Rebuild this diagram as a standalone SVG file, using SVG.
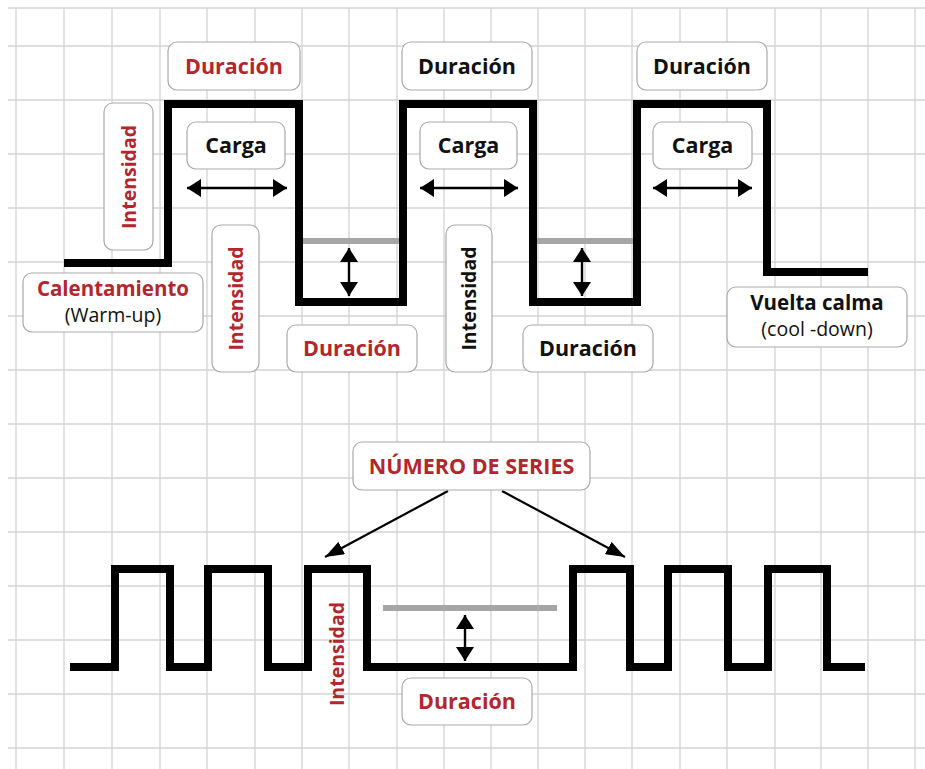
<svg xmlns="http://www.w3.org/2000/svg" width="925" height="769" viewBox="0 0 925 769">
<style>
.grid{stroke:#d3d3d3;stroke-width:1.3;fill:none}
.wave{stroke:#000;stroke-width:8;fill:none;stroke-linejoin:miter;stroke-linecap:butt}
.ref{stroke:#a6a6a6;stroke-width:6;fill:none}
.box{fill:#fff;stroke:#a9a9a9;stroke-width:1.2}
.dbl{stroke:#000;stroke-width:2.4;fill:none;marker-start:url(#head);marker-end:url(#head)}
.ptr{stroke:#000;stroke-width:2.2;fill:none;marker-end:url(#ptrhead)}
text{font-family:"Open Sans","Liberation Sans",sans-serif;font-weight:700;font-size:21.5px;text-anchor:middle}
.vt{font-size:19.5px}
.two{font-size:20.5px}
.red{fill:#b3262e}
.blk{fill:#111}
.reg{font-weight:400;font-size:19.5px;fill:#111}
</style>
<defs>
<marker id="head" markerUnits="userSpaceOnUse" markerWidth="14" markerHeight="18" refX="14" refY="9" orient="auto-start-reverse" viewBox="0 0 14 18">
<path d="M0,0 L14,9 L0,18 z" fill="#000"/>
</marker>
<marker id="ptrhead" markerUnits="userSpaceOnUse" markerWidth="19" markerHeight="14" refX="19" refY="7" orient="auto" viewBox="0 0 19 14">
<path d="M0,0 L19,7 L0,14 z" fill="#000"/>
</marker>
</defs>
<rect width="925" height="769" fill="#fff"/>
<g id="grid" class="grid">
<path d="M16,8V769M64,8V769M112,8V769M160,8V769M207,8V769M255,8V769M302,8V769M349,8V769M397,8V769M444,8V769M491,8V769M538,8V769M585,8V769M632,8V769M680,8V769M727,8V769M775,8V769M821,8V769M868,8V769M915,8V769"/>
<path d="M8,8H925M8,46H925M8,100H925M8,154H925M8,208H925M8,262H925M8,316H925M8,370H925M8,424H925M8,478H925M8,532H925M8,586H925M8,640H925M8,694H925M8,748H925"/>
</g>
<g id="connectors">
<path class="wave" d="M64,263H168V104H299V302H403V104H533V302H637V104H767V272H868"/>
<path class="ref" d="M303,241H399M537,241H633"/>
<path class="wave" d="M70,667H115V569H170V667H208V569H268V667H308V569H367V667H573V569H630V667H668V569H728V667H768V569H827V667H865"/>
<path class="ref" d="M383,608H557"/>
<line class="dbl" x1="187" y1="188" x2="287" y2="188"/>
<line class="dbl" x1="420" y1="188" x2="518" y2="188"/>
<line class="dbl" x1="653" y1="188" x2="752" y2="188"/>
<line class="dbl" x1="349" y1="248" x2="349" y2="296"/>
<line class="dbl" x1="582" y1="248" x2="582" y2="296"/>
<line class="dbl" x1="465" y1="615" x2="465" y2="661"/>
<line class="ptr" x1="448" y1="491" x2="325" y2="557"/>
<line class="ptr" x1="502" y1="491" x2="625" y2="557"/>
</g>
<g id="duracion-1"><rect class="box" x="168" y="42" width="132" height="48" rx="9"/><text class="red" x="234" y="73.5">Duración</text></g>
<g id="duracion-2"><rect class="box" x="402" y="42" width="130" height="48" rx="9"/><text class="blk" x="467" y="73.5">Duración</text></g>
<g id="duracion-3"><rect class="box" x="637" y="42" width="130" height="48" rx="9"/><text class="blk" x="702" y="73.5">Duración</text></g>
<g id="carga-1"><rect class="box" x="187" y="122" width="98" height="47" rx="9"/><text class="blk" x="236" y="153">Carga</text></g>
<g id="carga-2"><rect class="box" x="420" y="122" width="97" height="47" rx="9"/><text class="blk" x="468.5" y="153">Carga</text></g>
<g id="carga-3"><rect class="box" x="653" y="122" width="99" height="47" rx="9"/><text class="blk" x="702.5" y="153">Carga</text></g>
<g id="intensidad-1"><rect class="box" x="104" y="103" width="49" height="147" rx="9"/><text class="red vt" transform="translate(135.5,177) rotate(-90)">Intensidad</text></g>
<g id="intensidad-2"><rect class="box" x="212" y="225" width="47" height="147" rx="9"/><text class="red vt" transform="translate(242.5,298.5) rotate(-90)">Intensidad</text></g>
<g id="intensidad-3"><rect class="box" x="446" y="225" width="46" height="147" rx="9"/><text class="blk vt" transform="translate(475.5,298.5) rotate(-90)">Intensidad</text></g>
<g id="duracion-4"><rect class="box" x="287" y="325" width="130" height="47" rx="9"/><text class="red" x="352" y="356">Duración</text></g>
<g id="duracion-5"><rect class="box" x="523" y="325" width="130" height="47" rx="9"/><text class="blk" x="588" y="356">Duración</text></g>
<g id="calentamiento"><rect class="box" x="23" y="273" width="180" height="59" rx="9"/><text class="red two" x="113" y="295.5">Calentamiento</text><text class="reg" x="113" y="321.5">(Warm-up)</text></g>
<g id="vuelta-calma"><rect class="box" x="727" y="287" width="180" height="60" rx="9"/><text class="blk two" x="817" y="309.5">Vuelta calma</text><text class="reg" x="817" y="335.5">(cool -down)</text></g>
<g id="numero-series"><rect class="box" x="353" y="442" width="237" height="48" rx="9"/><text class="red" x="471.5" y="473.5">NÚMERO DE SERIES</text></g>
<g id="intensidad-4"><text class="red vt" transform="translate(344,654) rotate(-90)">Intensidad</text></g>
<g id="duracion-6"><rect class="box" x="402" y="678" width="130" height="47" rx="9"/><text class="red" x="467" y="709">Duración</text></g>
</svg>
